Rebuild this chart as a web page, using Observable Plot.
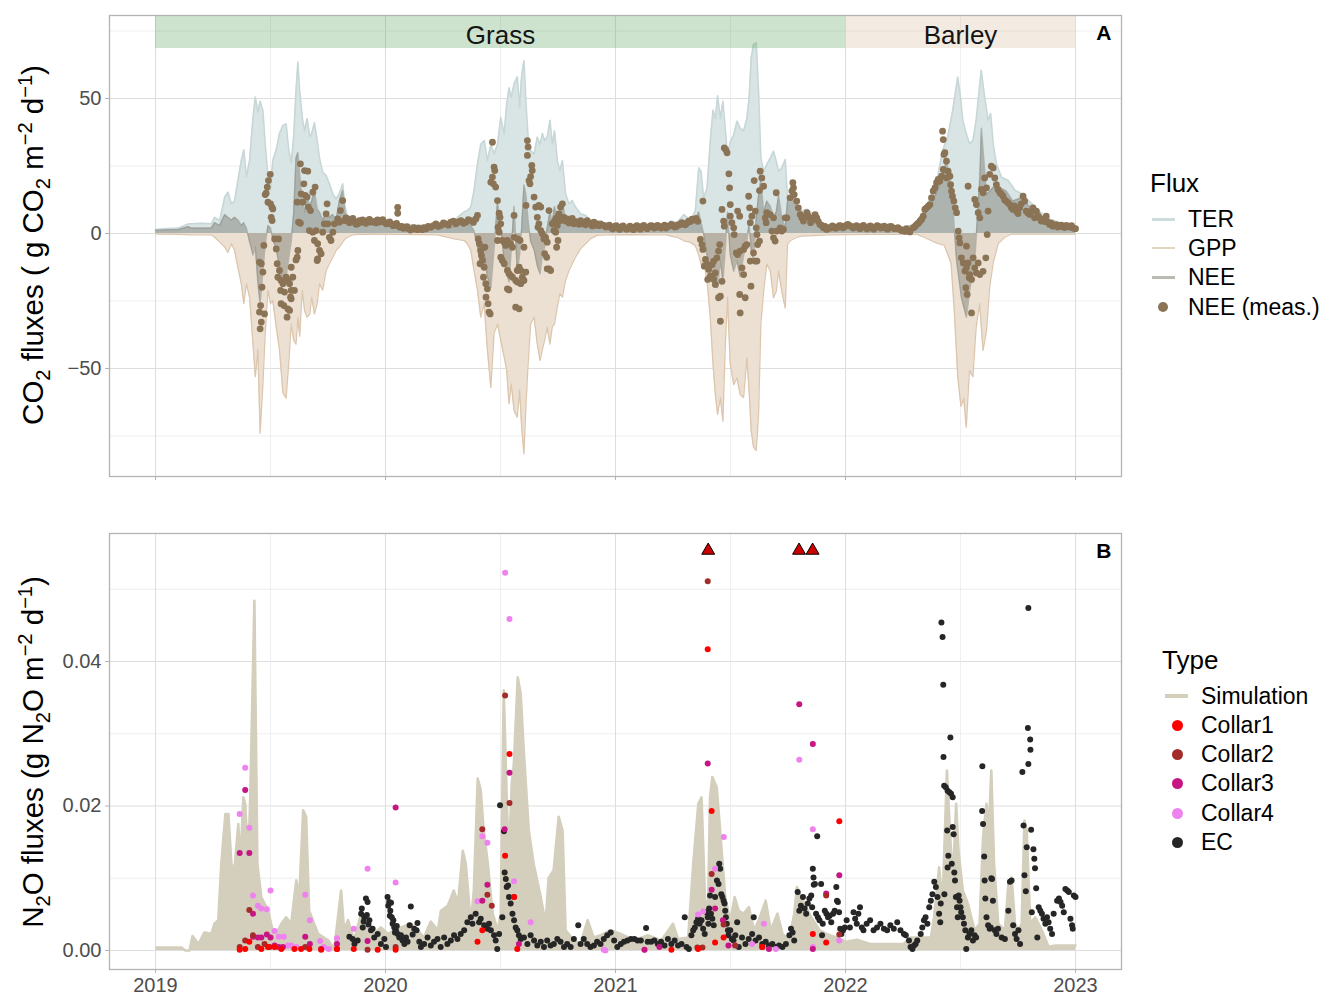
<!DOCTYPE html>
<html><head><meta charset="utf-8">
<script src="https://cdn.jsdelivr.net/npm/d3@7"></script>
<script src="https://cdn.jsdelivr.net/npm/@observablehq/plot@0.6"></script>
<style>
body{margin:0;background:#fff;font-family:"Liberation Sans",Arial,Helvetica,sans-serif;}
#wrap{position:relative;width:1324px;height:995px;overflow:hidden;background:#fff;}
#wrap svg{position:absolute;left:0;}
.ytitle{position:absolute;white-space:nowrap;font-size:29.5px;color:#000;transform:translate(-50%,-50%) rotate(-90deg);line-height:1.15;}
.ytitle sub,.ytitle sup{font-size:68%;line-height:0;}
</style></head>
<body><div id="wrap"></div>
<script>
// ---------------- DATA ----------------
const years = [2019, 2020, 2021, 2022, 2023];
const halfYears = [2019.5, 2020.5, 2021.5, 2022.5];
const co2Major = [-50, 0, 50];
const co2Minor = [-75, -25, 25, 75];
const n2oMajor = [0, 0.02, 0.04];
const n2oMinor = [0.01, 0.03, 0.05];
const crops = [{crop: "Grass", start: 2019, end: 2022}, {crop: "Barley", start: 2022, end: 2023}];
const fluxKeys = ["TER", "GPP", "NEE", "NEE (meas.)"];
const typeKeys = ["Simulation", "Collar1", "Collar2", "Collar3", "Collar4", "EC"];

// Panel A: simulated TER, GPP, NEE [decimal year, g CO2 m-2 d-1]
const terSeries = [
[2019.000,1.5],[2019.050,1.8],[2019.100,2.0],[2019.143,3.5],[2019.156,3.6],[2019.199,3.8],[2019.243,3.6],[2019.257,6],[2019.279,4.8],[2019.301,13.5],[2019.315,15.3],[2019.330,11],[2019.344,12],[2019.358,19.6],[2019.373,27],[2019.384,31],[2019.395,21],[2019.409,27],[2019.424,43],[2019.434,50.5],[2019.445,45],[2019.455,49],[2019.467,45.5],[2019.477,33],[2019.489,21],[2019.500,16],[2019.510,27],[2019.525,31],[2019.539,37],[2019.554,40],[2019.568,40.6],[2019.578,32],[2019.590,26],[2019.601,36],[2019.611,53],[2019.619,63.5],[2019.627,53],[2019.638,43],[2019.648,38],[2019.659,42.5],[2019.671,36],[2019.679,37],[2019.691,41],[2019.703,34.4],[2019.713,28],[2019.727,22.7],[2019.742,21.5],[2019.756,18.4],[2019.771,14.7],[2019.785,12.8],[2019.799,14.7],[2019.814,18.4],[2019.824,9.8],[2019.836,6],[2019.857,5.4],[2019.879,4.8],[2019.937,4.8],[2020.000,4.5],[2020.060,3.5],[2020.110,3.2],
[2020.154,3],[2020.226,3],[2020.299,4],[2020.313,6],[2020.342,8],[2020.356,8.5],[2020.371,9.8],[2020.385,16],[2020.400,25.8],[2020.414,33],[2020.429,34.4],[2020.443,27],[2020.458,33],[2020.472,29.5],[2020.487,33],[2020.501,43],[2020.516,37],[2020.527,48],[2020.537,54],[2020.547,50.5],[2020.559,55.4],[2020.573,58],[2020.583,46.8],[2020.592,58.5],[2020.602,64],[2020.611,48],[2020.620,35.7],[2020.631,30.7],[2020.646,29.5],[2020.660,35.7],[2020.672,33],[2020.682,37],[2020.692,34.4],[2020.703,35.7],[2020.715,41.9],[2020.725,33],[2020.735,38],[2020.747,27],[2020.758,23.3],[2020.769,27],[2020.783,14.7],[2020.798,11],[2020.812,12.2],[2020.826,9.8],[2020.848,7.3],[2020.870,6.7],[2020.891,4.8],[2020.920,4.5],[2020.960,3.5],[2021.000,3],[2021.080,3],[2021.120,3.2],
[2021.152,2.7],[2021.224,2.7],[2021.239,4.6],[2021.268,4],[2021.297,7],[2021.326,5],[2021.347,8.3],[2021.362,24.3],[2021.372,23],[2021.383,13],[2021.398,16.9],[2021.412,34],[2021.424,45.7],[2021.434,42.6],[2021.444,51],[2021.456,42.6],[2021.467,49],[2021.477,39],[2021.487,29],[2021.499,34],[2021.514,36.5],[2021.528,41.6],[2021.542,39],[2021.557,38],[2021.571,42.6],[2021.581,50.2],[2021.590,65],[2021.600,70],[2021.612,70.6],[2021.622,52.7],[2021.632,28],[2021.644,23],[2021.658,25.5],[2021.673,28],[2021.687,30.5],[2021.699,26.8],[2021.709,23],[2021.723,24.3],[2021.738,27.4],[2021.748,13],[2021.759,12],[2021.774,15.7],[2021.788,10.7],[2021.810,8.3],[2021.832,9],[2021.861,7],[2021.889,4.6],[2021.918,2.7],[2022.000,3],[2022.100,2.8],[2022.200,2.5],
[2022.254,2.3],[2022.297,2.5],[2022.312,4.7],[2022.341,8.5],[2022.371,13.5],[2022.400,20.8],[2022.422,30.7],[2022.444,35.7],[2022.466,45.5],[2022.488,57.9],[2022.500,50.5],[2022.510,41.9],[2022.525,37],[2022.539,33.3],[2022.554,34.4],[2022.568,41.9],[2022.590,60.4],[2022.605,50.5],[2022.620,41.9],[2022.631,44.4],[2022.642,33.3],[2022.656,25.8],[2022.679,20.8],[2022.708,19.6],[2022.737,16],[2022.766,14.7],[2022.796,12.2],[2022.825,9.8],[2022.854,7.3],[2022.883,5.5],[2022.928,4.2],[2022.986,3],[2023.000,2.5]
];
const gppSeries = [
[2019.000,-0.2],[2019.100,-0.3],[2019.156,-0.5],[2019.243,-0.5],[2019.257,-1.4],[2019.279,-3.2],[2019.301,-5],[2019.315,-7],[2019.330,-3.8],[2019.344,-6.3],[2019.358,-12.5],[2019.373,-18.6],[2019.384,-26],[2019.395,-18.6],[2019.409,-23.6],[2019.424,-41],[2019.434,-53],[2019.445,-43],[2019.455,-74],[2019.467,-55.7],[2019.477,-37],[2019.489,-21],[2019.500,-26],[2019.510,-24.8],[2019.525,-34.7],[2019.539,-43],[2019.554,-59],[2019.568,-61],[2019.578,-49.5],[2019.590,-33.5],[2019.601,-39.6],[2019.611,-41],[2019.619,-31],[2019.627,-38],[2019.638,-21],[2019.648,-28.5],[2019.659,-31],[2019.671,-29.8],[2019.679,-23.6],[2019.691,-29.8],[2019.703,-26],[2019.713,-18.6],[2019.727,-21],[2019.742,-13.7],[2019.756,-11.2],[2019.771,-8.8],[2019.785,-6.3],[2019.799,-5],[2019.814,-3.2],[2019.824,-2],[2019.836,-1.4],[2019.857,-0.5],[2019.879,-0.3],[2019.937,-0.2],[2020.060,-0.3],[2020.154,-0.4],
[2020.226,-0.5],[2020.299,-2],[2020.313,-2.2],[2020.342,-2.6],[2020.356,-3.8],[2020.371,-6.3],[2020.385,-13.7],[2020.400,-21],[2020.414,-31],[2020.429,-26],[2020.443,-43],[2020.458,-57],[2020.472,-37],[2020.487,-33.5],[2020.501,-39.6],[2020.516,-45.8],[2020.527,-50.7],[2020.537,-63],[2020.547,-55.7],[2020.559,-65.6],[2020.573,-68],[2020.583,-58],[2020.592,-71.7],[2020.602,-81.6],[2020.611,-63],[2020.620,-48.3],[2020.631,-33.5],[2020.646,-31],[2020.660,-41],[2020.672,-47],[2020.682,-43],[2020.692,-39.6],[2020.703,-34.7],[2020.715,-41],[2020.725,-34.7],[2020.735,-33.5],[2020.747,-27.3],[2020.758,-22.3],[2020.769,-23.6],[2020.783,-17.4],[2020.798,-13.7],[2020.812,-11.2],[2020.826,-8.8],[2020.848,-5.7],[2020.870,-3.8],[2020.891,-2],[2020.920,-0.7],[2020.960,-0.5],[2021.080,-0.4],
[2021.152,-0.5],[2021.224,-0.5],[2021.239,-1],[2021.268,-1.4],[2021.297,-2.7],[2021.326,-3.3],[2021.347,-4.5],[2021.362,-8],[2021.372,-11.3],[2021.383,-10],[2021.398,-17.4],[2021.412,-31],[2021.424,-48.5],[2021.434,-59.6],[2021.444,-67],[2021.456,-60.8],[2021.467,-69.5],[2021.477,-42.4],[2021.487,-23.6],[2021.499,-48.5],[2021.514,-56],[2021.528,-53.5],[2021.542,-59.6],[2021.557,-60.8],[2021.571,-46],[2021.581,-58.4],[2021.590,-73],[2021.600,-79],[2021.612,-80.4],[2021.622,-67],[2021.632,-33.5],[2021.644,-21.4],[2021.658,-11.3],[2021.673,-13.9],[2021.687,-23.8],[2021.699,-21.4],[2021.709,-13.9],[2021.723,-21.4],[2021.738,-27.6],[2021.748,-4],[2021.759,-2.7],[2021.788,-1.4],[2021.810,-1],[2021.861,-0.8],[2021.918,-0.5],[2022.100,-0.3],[2022.200,-0.3],
[2022.254,-0.3],[2022.312,-0.3],[2022.341,-1.4],[2022.371,-2.6],[2022.400,-3.7],[2022.429,-4.3],[2022.459,-11],[2022.473,-28.5],[2022.488,-53],[2022.502,-64],[2022.514,-61],[2022.525,-71.7],[2022.539,-50.7],[2022.554,-53],[2022.568,-34.7],[2022.583,-26],[2022.598,-43.3],[2022.613,-36],[2022.627,-19.9],[2022.642,-11],[2022.664,-3.7],[2022.693,-1.4],[2022.722,-0.2],[2023.000,-0.2]
];
const neeSeries = [
[2019.000,1.2],[2019.050,1.4],[2019.100,1.5],[2019.143,2.5],[2019.156,2],[2019.243,2],[2019.257,4],[2019.279,3],[2019.301,7],[2019.315,6],[2019.330,5],[2019.344,6],[2019.358,5],[2019.373,3],[2019.384,4],[2019.395,2],[2019.409,-3],[2019.424,-8],[2019.434,-5],[2019.445,-18],[2019.455,-26],[2019.467,-14],[2019.477,-4],[2019.489,3],[2019.500,2],[2019.510,-2],[2019.525,-6],[2019.539,-12],[2019.554,-18],[2019.568,-16],[2019.578,-10],[2019.590,-3],[2019.601,8],[2019.611,28],[2019.619,30],[2019.627,22],[2019.638,12],[2019.648,8],[2019.659,14],[2019.671,10],[2019.679,12],[2019.691,16],[2019.703,9],[2019.713,8],[2019.727,5],[2019.742,8],[2019.756,6],[2019.771,7],[2019.785,5],[2019.799,12],[2019.814,16],[2019.824,8],[2019.836,4],[2019.857,4],[2019.879,3.5],[2019.937,4],[2020.000,4],[2020.060,3],[2020.110,2.5],
[2020.154,2.5],[2020.226,2.5],[2020.299,2.5],[2020.313,3],[2020.342,4],[2020.356,3.5],[2020.371,3],[2020.385,1],[2020.400,-5],[2020.414,-12],[2020.429,-8],[2020.443,-16],[2020.458,-20],[2020.472,-6],[2020.487,12],[2020.501,2],[2020.516,-10],[2020.527,-14],[2020.537,-18],[2020.547,-6],[2020.559,10],[2020.573,-14],[2020.583,-8],[2020.592,2],[2020.602,18],[2020.611,14],[2020.620,5],[2020.631,-3],[2020.646,-6],[2020.660,-12],[2020.672,-15],[2020.682,-8],[2020.692,-5],[2020.703,2],[2020.715,8],[2020.725,4],[2020.735,10],[2020.747,6],[2020.758,8],[2020.769,12],[2020.783,5],[2020.798,4],[2020.812,6],[2020.826,4],[2020.848,4],[2020.870,3.5],[2020.891,3],[2020.920,3],[2020.960,2.5],[2021.000,2.2],[2021.080,2.2],[2021.120,2.5],
[2021.152,2.5],[2021.224,2.5],[2021.239,2.8],[2021.268,2.8],[2021.297,3],[2021.326,3.5],[2021.347,5],[2021.362,8],[2021.372,4],[2021.383,0],[2021.398,-8],[2021.412,-14],[2021.424,-18],[2021.434,-16],[2021.444,-20],[2021.456,-10],[2021.467,-18],[2021.477,-6],[2021.487,8],[2021.499,-8],[2021.514,-14],[2021.528,-10],[2021.542,-16],[2021.557,-8],[2021.571,-3],[2021.581,4],[2021.590,-6],[2021.600,-10],[2021.612,6],[2021.622,14],[2021.632,20],[2021.644,8],[2021.658,12],[2021.673,10],[2021.687,6],[2021.699,8],[2021.709,14],[2021.723,6],[2021.738,2],[2021.748,12],[2021.759,14],[2021.774,16],[2021.788,10],[2021.810,8],[2021.832,6],[2021.861,5],[2021.889,3.5],[2021.918,2.5],[2022.000,2.5],[2022.100,2.3],[2022.200,2],
[2022.237,1.5],[2022.295,3.3],[2022.367,9.5],[2022.410,18],[2022.439,26.8],[2022.454,20.6],[2022.468,8],[2022.483,-10],[2022.504,-23.8],[2022.526,-31],[2022.540,-21],[2022.562,-10],[2022.584,20.6],[2022.591,39],[2022.613,14.4],[2022.642,17],[2022.671,17],[2022.699,15.7],[2022.728,12],[2022.772,13.5],[2022.815,8],[2022.859,5.8],[2022.902,3.3],[2022.960,2.5],[2023.000,2]
];
// Panel A: measured NEE
const neeMeasured = [
[2019.499,21.9],[2019.491,19.6],[2019.486,17.2],[2019.481,14.9],[2019.477,14.4],[2019.489,11.6],[2019.500,11.0],[2019.506,9.8],[2019.510,9.1],[2019.503,6.0],[2019.507,4.8],
[2019.471,-4.4],[2019.452,-10.6],[2019.460,-11.2],[2019.467,-14.3],[2019.463,-19.9],[2019.457,-26.7],[2019.452,-29.1],[2019.474,-29.8],[2019.460,-32.8],[2019.455,-35.3],
[2019.518,-2.0],[2019.535,-2.0],[2019.525,-5.7],[2019.529,-11.2],[2019.539,-13.7],[2019.532,-16.2],[2019.546,-17.4],[2019.554,-18.6],[2019.544,-21.1],[2019.561,-21.7],[2019.568,-16.2],[2019.575,-17.4],[2019.583,-18.6],[2019.590,-12.5],[2019.597,-16.2],[2019.604,-21.1],[2019.590,-21.1],[2019.587,-23.6],[2019.546,-26.0],[2019.558,-26.7],[2019.575,-27.9],[2019.583,-28.5],[2019.572,-31.0],[2019.590,-24.2],[2019.619,-6.3],[2019.616,-8.8],[2019.611,-9.8],
[2019.630,25.8],[2019.648,23.3],[2019.662,23.1],[2019.645,18.4],[2019.633,14.7],[2019.651,14.1],[2019.659,13.5],[2019.640,11.6],[2019.665,9.8],[2019.674,8.5],[2019.616,11.6],[2019.622,4.2],[2019.630,3.8],[2019.694,17.2],[2019.684,15.3],
[2019.669,1.1],[2019.684,0.5],[2019.698,1.1],[2019.705,-3.8],[2019.713,-6.3],[2019.720,-7.5],[2019.705,-9.4],[2019.703,-10.0],[2019.691,-2.6],[2019.727,0.5],[2019.734,3.6],[2019.749,3.6],[2019.742,7.3],[2019.746,11.0],[2019.756,-1.4],[2019.763,-2.6],[2019.771,0.5],[2019.778,3.6],[2019.792,5.4],[2019.804,8.5],[2019.814,12.2],[2019.799,4.2],[2019.821,4.8],[2019.828,5.8],[2019.836,5.4],[2019.843,4.0],[2019.850,4.8],[2019.858,5.6],[2019.865,4.2],[2019.872,3.4],[2019.879,3.6],[2019.886,4.8],[2019.893,4.2],[2019.900,5.0],[2019.908,4.2],[2019.915,3.8],[2019.922,4.8],[2019.930,5.2],[2019.937,4.2],
[2019.950,4.5],[2019.958,3.9],[2019.965,5.0],[2019.972,4.2],[2019.980,4.6],[2019.988,5.1],[2019.995,4.2],[2020.003,3.6],[2020.010,3.8],[2020.018,4.3],[2020.025,3.6],[2020.033,2.9],[2020.040,3.2],[2020.048,3.7],[2020.055,2.8],[2020.053,9.7],[2020.053,7.5],[2020.063,2.3],[2020.070,2.6],[2020.078,1.9],[2020.085,2.2],[2020.093,2.5],[2020.100,1.8],[2020.108,1.3],[2020.115,1.6],[2020.123,2.2],[2020.130,1.8],[2020.138,1.4],[2020.145,2.0],[2020.160,1.4],[2020.168,2.2],[2020.176,1.7],[2020.186,2.6],[2020.197,2.3],[2020.208,2.9],[2020.219,3.6],[2020.230,2.6],[2020.241,3.0],[2020.252,3.9],[2020.262,3.6],[2020.273,3.1],[2020.284,4.2],[2020.295,4.6],[2020.306,3.6],[2020.317,4.3],[2020.328,4.8],[2020.339,3.8],[2020.349,4.2],[2020.360,5.1],[2020.371,4.8],[2020.382,4.1],[2020.393,5.4],[2020.400,6.7],
[2020.403,-2.0],[2020.408,-3.8],[2020.414,-6.3],[2020.417,-8.1],[2020.422,-10.0],[2020.411,-11.2],[2020.429,-12.5],[2020.426,-16.2],[2020.436,-18.6],[2020.443,-20.5],[2020.437,-23.6],[2020.446,-26.0],[2020.450,-29.1],[2020.455,-29.8],[2020.432,-5.1],
[2020.465,33.8],[2020.472,24.6],[2020.475,23.3],[2020.465,20.9],[2020.458,19.0],[2020.469,18.4],[2020.479,17.2],[2020.487,12.2],[2020.494,7.5],[2020.498,6.0],[2020.501,3.6],[2020.489,2.3],[2020.494,0.5],
[2020.487,-2.6],[2020.508,-2.6],[2020.516,-3.2],[2020.523,-4.4],[2020.530,-2.6],[2020.544,-3.8],[2020.552,-5.1],[2020.559,-1.4],[2020.576,-2.0],[2020.585,-2.6],[2020.602,-5.1],[2020.501,-8.8],[2020.508,-10.0],[2020.516,-11.2],[2020.530,-13.7],[2020.537,-14.9],[2020.544,-15.6],[2020.552,-16.2],[2020.566,-17.4],[2020.573,-13.7],[2020.581,-12.5],[2020.588,-13.7],[2020.595,-16.2],[2020.602,-17.4],[2020.610,-14.3],[2020.588,-18.6],[2020.573,-18.0],[2020.530,-20.5],[2020.537,-20.9],[2020.566,-27.3],[2020.581,-27.9],[2020.559,6.7],
[2020.617,34.4],[2020.620,32.0],[2020.617,28.9],[2020.636,25.2],[2020.638,23.3],[2020.631,21.1],[2020.624,19.6],[2020.628,18.4],[2020.646,13.5],[2020.653,9.8],[2020.611,10.4],[2020.667,10.4],[2020.675,9.8],[2020.660,6.0],[2020.667,3.6],[2020.663,2.3],[2020.675,1.1],[2020.682,-0.1],
[2020.689,-2.0],[2020.696,-1.4],[2020.703,-3.2],[2020.692,-7.5],[2020.701,-8.8],[2020.711,-13.1],[2020.718,-13.7],[2020.703,-13.1],[2020.711,8.5],[2020.725,3.6],[2020.732,4.2],[2020.740,5.4],[2020.747,6.0],[2020.754,7.3],[2020.761,9.8],[2020.769,11.0],[2020.761,4.8],[2020.747,3.0],[2020.740,0.5],[2020.750,-2.6],[2020.744,-5.1],[2020.732,1.1],[2020.776,6.0],[2020.783,4.6],[2020.790,5.4],[2020.798,3.9],[2020.805,4.8],[2020.812,5.6],[2020.819,3.6],[2020.827,4.4],[2020.834,4.2],[2020.841,3.4],[2020.848,4.8],[2020.856,3.6],[2020.863,4.2],[2020.870,3.2],[2020.877,4.8],[2020.884,3.9],[2020.891,3.6],[2020.899,2.8],[2020.906,4.2],[2020.913,3.1],[2020.920,3.6],[2020.928,2.9],[2020.935,3.6],
[2020.950,3.0],[2020.958,2.4],[2020.965,2.6],[2020.973,3.1],[2020.980,2.2],[2020.988,1.7],[2020.995,2.6],[2021.003,2.9],[2021.010,2.0],[2021.018,1.5],[2021.025,2.4],[2021.033,2.8],[2021.040,2.0],[2021.048,1.6],[2021.055,2.2],[2021.063,2.7],[2021.070,1.8],[2021.078,1.4],[2021.085,2.4],[2021.093,2.9],[2021.100,2.0],[2021.108,1.6],[2021.115,2.6],[2021.123,3.0],[2021.130,2.2],[2021.138,1.8],[2021.145,2.4],[2021.153,2.9],[2021.160,2.8],[2021.168,2.0],[2021.175,2.2],[2021.183,3.0],[2021.190,2.6],[2021.198,2.0],[2021.205,2.4],[2021.213,3.1],[2021.220,2.0],[2021.228,2.6],[2021.235,2.8],[2021.243,3.4],[2021.250,3.0],[2021.258,2.4],[2021.265,2.6],[2021.273,3.3],[2021.280,3.2],[2021.288,4.0],[2021.295,3.6],[2021.303,3.2],[2021.310,3.8],[2021.318,4.6],[2021.325,4.4],[2021.333,5.3],[2021.340,5.0],[2021.350,5.6],[2021.358,4.5],
[2021.380,12.0],[2021.369,-2.2],[2021.376,-4.1],[2021.380,-5.9],[2021.391,-9.6],[2021.398,-11.5],[2021.386,-12.1],[2021.405,-13.3],[2021.412,-15.8],[2021.401,-17.0],[2021.420,-16.4],[2021.427,-17.0],[2021.434,-14.6],[2021.420,-11.5],[2021.427,-10.2],[2021.441,-9.0],[2021.448,-6.5],[2021.453,-4.1],[2021.434,-18.9],[2021.456,-23.2],[2021.448,-23.8],[2021.456,-32.5],[2021.463,-17.7],
[2021.473,31.7],[2021.479,31.1],[2021.485,29.9],[2021.493,22.1],[2021.496,16.9],[2021.499,10.7],[2021.463,8.9],[2021.470,4.6],[2021.473,2.7],[2021.499,6.4],[2021.506,4.0],[2021.514,2.1],[2021.516,-0.4],[2021.531,8.3],[2021.540,6.4],[2021.525,-7.2],[2021.531,-7.8],[2021.542,-6.5],[2021.557,-5.9],[2021.564,-4.7],[2021.571,-4.1],[2021.550,-12.7],[2021.557,-15.2],[2021.540,-22.6],[2021.564,-23.8],[2021.542,-29.4],[2021.589,-19.5],
[2021.579,13.8],[2021.583,9.5],[2021.586,4.0],[2021.593,6.4],[2021.603,19.6],[2021.608,8.3],[2021.612,2.1],[2021.615,-0.4],[2021.618,-4.1],[2021.626,-2.8],[2021.586,-10.2],[2021.600,-7.2],[2021.608,-10.2],[2021.615,-10.2],[2021.629,23.1],[2021.636,20.6],[2021.644,17.5],[2021.626,15.9],[2021.651,5.8],[2021.655,4.0],[2021.658,7.7],[2021.673,7.0],[2021.687,5.8],[2021.699,15.1],[2021.680,0.9],[2021.687,-1.6],[2021.694,-2.8],[2021.701,0.9],[2021.716,2.1],[2021.723,0.9],[2021.730,1.5],[2021.738,5.8],[2021.745,5.8],[2021.759,13.2],[2021.767,15.7],[2021.774,16.9],[2021.771,18.8],[2021.777,14.4],[2021.788,12.0],[2021.795,9.5],[2021.803,7.0],[2021.810,5.8],[2021.817,4.6],[2021.825,6.2],[2021.832,7.7],[2021.838,6.4],[2021.843,5.8],[2021.848,4.0],[2021.853,4.6],[2021.860,5.6],[2021.868,7.0],[2021.875,5.8],[2021.882,4.4],[2021.889,3.3],[2021.897,3.0],[2021.904,2.1],[2021.911,2.6],[2021.918,1.5],[2021.926,2.2],
[2021.935,2.0],[2021.943,2.8],[2021.950,2.4],[2021.958,1.9],[2021.965,2.2],[2021.973,2.9],[2021.980,2.8],[2021.988,2.1],[2021.995,2.4],[2022.003,3.0],[2022.010,3.4],[2022.018,2.9],[2022.025,2.6],[2022.033,2.0],[2022.040,2.4],[2022.048,2.9],[2022.055,2.2],[2022.063,1.8],[2022.070,2.6],[2022.078,3.0],[2022.085,2.2],[2022.093,1.7],[2022.100,2.4],[2022.108,2.8],[2022.115,2.0],[2022.123,1.6],[2022.130,2.4],[2022.138,2.9],[2022.145,2.6],[2022.153,2.0],[2022.160,2.2],[2022.168,2.7],[2022.175,2.0],[2022.183,1.6],[2022.190,2.4],[2022.198,2.6],[2022.205,2.2],[2022.213,1.8],[2022.220,1.8],[2022.228,2.2],[2022.235,1.6],[2022.243,1.1],[2022.250,1.2],[2022.258,0.8],[2022.265,1.8],[2022.272,0.9],[2022.280,0.6],
[2022.295,2.1],[2022.302,2.6],[2022.309,3.3],[2022.317,3.8],[2022.324,4.6],[2022.331,5.2],[2022.338,6.4],[2022.345,8.9],[2022.352,9.5],[2022.360,10.1],[2022.367,10.7],[2022.374,13.2],[2022.381,15.7],[2022.389,16.9],[2022.396,18.8],[2022.403,20.0],[2022.410,19.4],[2022.418,21.2],[2022.425,23.7],[2022.428,29.3],[2022.432,29.9],[2022.439,26.8],[2022.446,23.1],[2022.454,21.2],[2022.439,20.6],[2022.457,18.1],[2022.461,15.7],[2022.465,13.8],[2022.471,12.0],[2022.477,9.5],[2022.483,7.7],[2022.422,37.9],[2022.425,34.8],
[2022.490,0.9],[2022.494,-1.6],[2022.497,-3.5],[2022.504,-9.0],[2022.512,-10.9],[2022.519,-13.9],[2022.526,-12.7],[2022.533,-10.9],[2022.540,-15.2],[2022.548,-17.0],[2022.523,-20.1],[2022.529,-22.6],[2022.538,-16.4],[2022.548,-29.4],[2022.555,-9.0],[2022.562,-12.7],[2022.569,-14.6],[2022.577,-10.9],[2022.584,-15.2],[2022.598,-14.0],[2022.610,-9.0],[2022.526,-4.7],[2022.533,17.5],
[2022.562,12.6],[2022.569,10.7],[2022.577,7.7],[2022.584,5.8],[2022.591,16.3],[2022.598,15.1],[2022.605,20.6],[2022.613,16.9],[2022.620,8.3],[2022.616,-0.4],[2022.627,21.9],[2022.634,24.9],[2022.642,24.3],[2022.649,20.6],[2022.656,18.1],[2022.663,16.3],[2022.671,15.1],[2022.678,14.6],[2022.685,13.8],[2022.692,12.4],[2022.699,12.0],[2022.706,11.4],[2022.714,10.7],[2022.721,9.6],[2022.728,8.9],[2022.735,10.2],[2022.743,8.3],[2022.750,7.4],[2022.757,9.5],[2022.764,11.0],[2022.772,13.8],[2022.779,12.0],[2022.786,8.3],[2022.793,7.6],[2022.801,7.0],[2022.808,8.2],[2022.815,9.5],[2022.822,5.8],[2022.830,8.3],[2022.837,6.6],[2022.844,5.8],[2022.851,4.6],[2022.859,5.2],[2022.866,4.4],[2022.873,6.4],[2022.880,4.2],[2022.887,3.3],[2022.895,3.8],[2022.902,2.7],[2022.909,3.0],[2022.916,3.3],[2022.923,2.4],[2022.931,2.7],[2022.938,3.1],[2022.945,2.5],[2022.953,2.2],[2022.960,3.0],[2022.968,2.6],[2022.975,2.4],[2022.983,2.9],[2022.990,2.0],[2023.000,1.8]
];

// Panel B: simulated N2O [decimal year, g N2O m-2 d-1]
const n2oSimulation = [
[2019.004,0.0004],[2019.113,0.0004],[2019.130,0.0],[2019.148,0.0],[2019.161,0.0020],[2019.187,0.0009],[2019.213,0.0025],[2019.243,0.0023],[2019.256,0.0037],[2019.273,0.0042],[2019.286,0.0120],[2019.304,0.0189],[2019.317,0.0189],[2019.330,0.0120],[2019.343,0.0111],[2019.360,0.0175],[2019.369,0.0120],[2019.382,0.0212],[2019.390,0.0203],[2019.403,0.0120],[2019.412,0.0212],[2019.430,0.0484],[2019.434,0.0369],[2019.443,0.0120],[2019.460,0.0074],[2019.490,0.0055],[2019.516,0.0018],[2019.547,0.0037],[2019.568,0.0046],[2019.590,0.0037],[2019.612,0.0097],[2019.625,0.0074],[2019.642,0.0194],[2019.655,0.0185],[2019.668,0.0055],[2019.707,0.0023],[2019.751,0.0014],[2019.777,0.0002],[2019.807,0.0083],[2019.820,0.0028],[2019.837,0.0042],[2019.863,0.0014],[2019.894,0.0051],[2019.924,0.0028],[2019.950,0.0023],[2019.980,0.0032],[2020.011,0.0023],[2020.037,0.0028],[2020.067,0.0032],[2020.111,0.0037],[2020.141,0.0028],[2020.167,0.0018],[2020.197,0.0040],[2020.228,0.0028],[2020.241,0.0055],[2020.271,0.0062],[2020.297,0.0083],[2020.315,0.0065],[2020.336,0.0138],[2020.349,0.0120],[2020.371,0.0037],[2020.384,0.0083],[2020.401,0.0238],[2020.414,0.0222],[2020.427,0.0166],[2020.445,0.0120],[2020.466,0.0051],[2020.488,0.0028],[2020.501,0.0051],[2020.514,0.0360],[2020.527,0.0212],[2020.536,0.0120],[2020.549,0.0231],[2020.558,0.0258],[2020.575,0.0378],[2020.588,0.0355],[2020.601,0.0277],[2020.623,0.0166],[2020.644,0.0120],[2020.675,0.0074],[2020.696,0.0037],[2020.709,0.0100],[2020.731,0.0111],[2020.753,0.0185],[2020.770,0.0166],[2020.783,0.0028],[2020.818,0.0014],[2020.848,0.0009],[2020.879,0.0042],[2020.905,0.0018],[2020.935,0.0021],[2020.978,0.0028],
[2021.023,0.0023],[2021.082,0.0014],[2021.140,0.0021],[2021.199,0.0014],[2021.250,0.0037],[2021.272,0.0016],[2021.316,0.0018],[2021.338,0.0120],[2021.360,0.0203],[2021.374,0.0212],[2021.389,0.0074],[2021.401,0.0037],[2021.411,0.0212],[2021.421,0.0240],[2021.440,0.0226],[2021.455,0.0166],[2021.477,0.0074],[2021.499,0.0040],[2021.518,0.0074],[2021.536,0.0055],[2021.557,0.0051],[2021.580,0.0060],[2021.602,0.0028],[2021.623,0.0042],[2021.653,0.0069],[2021.675,0.0028],[2021.704,0.0051],[2021.726,0.0023],[2021.755,0.0014],[2021.777,0.0051],[2021.789,0.0088],[2021.807,0.0074],[2021.829,0.0060],[2021.851,0.0046],[2021.887,0.0028],[2021.917,0.0023],[2021.961,0.0018],[2022.004,0.0012],[2022.049,0.0015],[2022.107,0.0009],[2022.253,0.0009],[2022.283,0.0018],[2022.371,0.0018],[2022.385,0.0046],[2022.407,0.0115],[2022.422,0.0065],[2022.441,0.0249],[2022.451,0.0185],[2022.466,0.0092],[2022.481,0.0203],[2022.491,0.0139],[2022.510,0.0083],[2022.532,0.0065],[2022.561,0.0028],[2022.583,0.0037],[2022.598,0.0157],[2022.613,0.0203],[2022.623,0.0166],[2022.634,0.0249],[2022.646,0.0120],[2022.664,0.0037],[2022.693,0.0028],[2022.708,0.0092],[2022.722,0.0101],[2022.737,0.0037],[2022.751,0.0028],[2022.766,0.0037],[2022.778,0.0180],[2022.788,0.0166],[2022.803,0.0037],[2022.825,0.0046],[2022.854,0.0028],[2022.883,0.0005],[2022.913,0.0007],[2023.000,0.0007]
];
const collar1 = [
[2019.366,0.0001],[2019.390,0.0002],[2019.408,0.0012],[2019.460,0.0002],[2019.489,0.0005],[2019.518,0.0005],[2019.547,0.0002],[2019.604,0.0002],[2019.633,0.0002],[2019.669,0.0002],[2019.720,0.0001],[2019.789,0.0002],[2019.862,0.0002],[2019.966,0.0001],[2020.044,0.0001],[2020.400,0.0012],[2020.421,0.0028],[2020.520,0.0131],[2020.539,0.0272],[2020.559,0.0074],[2020.573,0.0002],
[2021.401,0.0417],[2021.418,0.0193],[2021.433,0.0011],[2021.470,0.0018],[2021.858,0.0023],[2021.916,0.0011],[2021.973,0.0179],[2021.638,0.0005],[2021.243,0.0001],[2021.359,0.0002]
];
const collar2 = [
[2019.408,0.0056],[2019.390,0.0014],[2019.366,0.0005],[2019.424,0.0021],[2019.445,0.0005],[2019.474,0.0009],[2019.496,0.0005],[2019.651,0.0005],[2019.789,0.0002],[2019.922,0.0001],[2020.044,0.0005],[2020.421,0.0168],[2020.443,0.0077],[2020.462,0.0062],[2020.520,0.0353],[2020.539,0.0204],[2020.559,0.0074],
[2021.401,0.0511],[2021.418,0.0106],[2021.356,0.0004],[2021.378,0.0004],[2021.470,0.0036],[2021.916,0.0076],[2021.973,0.0022],[2021.520,0.0007],[2021.638,0.0005]
];
const collar3 = [
[2019.390,0.0222],[2019.366,0.0135],[2019.408,0.0135],[2019.424,0.0051],[2019.424,0.0019],[2019.445,0.0018],[2019.460,0.0018],[2019.484,0.0022],[2019.500,0.0018],[2019.518,0.0007],[2019.536,0.0005],[2019.554,0.0005],[2019.651,0.0019],[2019.671,0.0009],[2019.720,0.0002],[2019.789,0.0009],[2019.922,0.0013],[2020.044,0.0198],[2020.421,0.0069],[2020.443,0.0091],[2020.518,0.0168],[2020.539,0.0246],[2020.580,0.0009],
[2021.401,0.0259],[2021.418,0.0084],[2021.433,0.0058],[2021.467,0.0042],[2021.799,0.0341],[2021.858,0.0286],[2021.916,0.0079],[2021.973,0.0104],[2021.858,0.0002],[2021.126,0.0001],[2021.191,0.0005],[2021.491,0.0007],[2021.667,0.0002]
];
const collar4 = [
[2019.390,0.0253],[2019.366,0.0189],[2019.408,0.0170],[2019.424,0.0076],[2019.445,0.0062],[2019.460,0.0058],[2019.484,0.0057],[2019.500,0.0083],[2019.518,0.0027],[2019.536,0.0019],[2019.558,0.0019],[2019.576,0.0007],[2019.590,0.0007],[2019.612,0.0005],[2019.651,0.0077],[2019.671,0.0042],[2019.716,0.0013],[2019.732,0.0005],[2019.753,0.0002],[2019.789,0.0017],[2019.862,0.0030],[2019.922,0.0113],[2020.044,0.0094],[2020.400,0.0068],[2020.421,0.0158],[2020.443,0.0149],[2020.520,0.0523],[2020.539,0.0459],[2020.559,0.0096],[2020.631,0.0039],[2020.956,0.0000],
[2021.799,0.0264],[2021.858,0.0168],[2021.471,0.0157],[2021.433,0.0113],[2021.381,0.0054],[2021.359,0.0050],[2021.645,0.0037],[2021.973,0.0014],[2021.858,0.0005],[2020.949,0.0001],[2021.126,0.0001],[2021.520,0.0007],[2021.594,0.0009],[2021.697,0.0002]
];
const ecFlux = [
[2019.843,0.0019],[2019.857,0.0016],[2019.865,0.0009],[2019.879,0.0014],[2019.894,0.0051],[2019.901,0.0032],[2019.908,0.0046],[2019.915,0.0072],[2019.922,0.0067],[2019.930,0.0042],[2019.937,0.0028],[2019.944,0.0030],[2019.951,0.0018],[2019.966,0.0023],[2019.980,0.0009],[2019.995,0.0016],[2020.002,0.0005],[2020.009,0.0074],[2020.016,0.0067],[2020.021,0.0055],[2020.027,0.0046],[2020.031,0.0037],[2020.038,0.0032],[2020.045,0.0028],[2020.053,0.0023],[2020.060,0.0018],[2020.067,0.0021],[2020.074,0.0014],[2020.082,0.0009],[2020.089,0.0018],[2020.096,0.0012],[2020.110,0.0061],[2020.125,0.0030],[2020.139,0.0038],[2020.147,0.0012],[2020.154,0.0005],[2020.168,0.0009],[2020.183,0.0018],[2020.197,0.0007],[2020.211,0.0012],[2020.226,0.0016],[2020.240,0.0005],[2020.255,0.0018],[2020.269,0.0009],[2020.284,0.0014],[2020.298,0.0021],[2020.313,0.0016],[2020.327,0.0023],[2020.342,0.0028],[2020.356,0.0039],[2020.371,0.0046],[2020.378,0.0037],[2020.392,0.0051],[2020.407,0.0039],[2020.414,0.0044],[2020.429,0.0035],[2020.443,0.0030],[2020.450,0.0037],[2020.458,0.0028],[2020.472,0.0021],[2020.479,0.0014],[2020.486,0.0002],[2020.494,0.0023],[2020.498,0.0201],[2020.508,0.0046],[2020.515,0.0165],[2020.518,0.0108],[2020.523,0.0099],[2020.527,0.0088],[2020.533,0.0090],[2020.537,0.0074],[2020.544,0.0065],[2020.552,0.0051],[2020.559,0.0042],[2020.566,0.0032],[2020.573,0.0028],[2020.580,0.0021],[2020.588,0.0016],[2020.602,0.0018],[2020.617,0.0009],[2020.631,0.0021],[2020.646,0.0014],[2020.660,0.0007],[2020.675,0.0012],[2020.689,0.0005],[2020.703,0.0014],[2020.718,0.0007],[2020.732,0.0009],[2020.747,0.0016],[2020.761,0.0012],[2020.776,0.0005],[2020.790,0.0009],[2020.805,0.0005],[2020.819,0.0016],[2020.838,0.0035],[2020.848,0.0009],[2020.862,0.0016],[2020.877,0.0009],[2020.891,0.0005],[2020.906,0.0007],[2020.920,0.0012],
[2019.897,0.0058],[2019.905,0.0040],[2019.919,0.0049],[2019.926,0.0036],[2020.012,0.0062],[2020.019,0.0048],[2020.024,0.0066],[2020.034,0.0042],[2020.041,0.0025],[2020.049,0.0034],[2020.105,0.0035],[2020.118,0.0022],[2020.135,0.0028],
[2020.935,0.0009],[2020.949,0.0016],[2020.964,0.0021],[2020.979,0.0025],[2020.994,0.0014],[2021.008,0.0005],[2021.023,0.0009],
[2021.037,0.0012],[2021.052,0.0014],[2021.067,0.0016],[2021.082,0.0016],[2021.096,0.0014],[2021.110,0.0014],[2021.133,0.0031],[2021.140,0.0012],[2021.155,0.0012],[2021.169,0.0014],[2021.184,0.0009],[2021.198,0.0012],[2021.213,0.0007],[2021.228,0.0016],[2021.243,0.0009],[2021.257,0.0014],[2021.272,0.0007],[2021.287,0.0009],[2021.301,0.0046],[2021.309,0.0005],[2021.319,0.0002],
[2021.330,0.0021],[2021.338,0.0028],[2021.345,0.0032],[2021.352,0.0039],[2021.359,0.0044],[2021.366,0.0037],[2021.374,0.0042],[2021.381,0.0030],[2021.388,0.0023],
[2021.396,0.0053],[2021.401,0.0046],[2021.404,0.0037],[2021.407,0.0058],[2021.411,0.0076],[2021.415,0.0051],[2021.421,0.0044],[2021.427,0.0035],[2021.433,0.0074],
[2021.441,0.0097],[2021.448,0.0092],[2021.451,0.0120],[2021.455,0.0113],[2021.460,0.0078],[2021.465,0.0074],[2021.470,0.0069],[2021.474,0.0065],[2021.477,0.0055],[2021.480,0.0046],[2021.484,0.0037],[2021.489,0.0028],[2021.491,0.0021],[2021.499,0.0028],[2021.506,0.0016],[2021.513,0.0014],[2021.521,0.0021],[2021.529,0.0039],[2021.536,0.0005],[2021.550,0.0018],[2021.565,0.0009],[2021.579,0.0016],[2021.594,0.0023],[2021.601,0.0046],[2021.609,0.0014],[2021.624,0.0018],[2021.638,0.0009],[2021.653,0.0012],[2021.667,0.0007],[2021.682,0.0009],[2021.697,0.0005],[2021.711,0.0007],[2021.726,0.0005],[2021.741,0.0009],[2021.756,0.0021],[2021.763,0.0030],[2021.770,0.0025],[2021.777,0.0014],
[2021.792,0.0081],[2021.799,0.0055],[2021.806,0.0062],[2021.815,0.0074],[2021.822,0.0058],[2021.829,0.0051],[2021.836,0.0065],[2021.843,0.0072],[2021.851,0.0076],[2021.855,0.0060],[2021.858,0.0113],[2021.861,0.0101],[2021.862,0.0091],[2021.867,0.0092],[2021.872,0.0051],[2021.877,0.0158],[2021.880,0.0046],[2021.887,0.0042],[2021.894,0.0092],[2021.898,0.0021],[2021.901,0.0037],
[2021.910,0.0055],[2021.917,0.0051],[2021.924,0.0046],[2021.931,0.0048],[2021.938,0.0039],[2021.946,0.0051],[2021.953,0.0055],[2021.960,0.0088],[2021.963,0.0069],[2021.967,0.0067],[2021.972,0.0053],[2021.977,0.0030],[2021.982,0.0023],[2021.989,0.0028],
[2021.997,0.0032],[2022.005,0.0042],[2022.019,0.0032],[2022.035,0.0053],[2022.042,0.0044],[2022.049,0.0037],[2022.056,0.0051],[2022.063,0.0060],[2022.071,0.0032],[2022.078,0.0028],[2022.092,0.0037],[2022.107,0.0042],[2022.122,0.0028],[2022.137,0.0032],[2022.152,0.0037],[2022.167,0.0030],[2022.181,0.0028],[2022.195,0.0035],[2022.210,0.0030],[2022.225,0.0039],[2022.239,0.0028],[2022.254,0.0023],
[2022.262,0.0021],[2022.276,0.0014],[2022.283,0.0005],[2022.291,0.0002],[2022.298,0.0007],[2022.305,0.0009],[2022.312,0.0014],[2022.327,0.0023],[2022.334,0.0032],[2022.341,0.0042],[2022.348,0.0046],[2022.356,0.0037],
[2022.364,0.0060],[2022.371,0.0069],[2022.378,0.0078],[2022.386,0.0095],[2022.393,0.0088],[2022.400,0.0074],[2022.407,0.0051],[2022.412,0.0039],[2022.417,0.0454],[2022.422,0.0434],[2022.425,0.0368],[2022.426,0.0268],[2022.429,0.0228],[2022.436,0.0226],[2022.444,0.0221],[2022.452,0.0219],[2022.459,0.0217],[2022.466,0.0212],[2022.442,0.0166],[2022.447,0.0131],[2022.444,0.0115],[2022.456,0.0295],[2022.462,0.0120],[2022.466,0.0171],[2022.470,0.0161],[2022.473,0.0108],[2022.476,0.0097],[2022.480,0.0074],[2022.485,0.0060],[2022.488,0.0046],[2022.430,0.0078],[2022.414,0.0065],
[2022.492,0.0076],[2022.496,0.0069],[2022.500,0.0060],[2022.503,0.0053],[2022.510,0.0046],[2022.515,0.0037],[2022.521,0.0028],[2022.525,0.0002],[2022.532,0.0018],[2022.539,0.0023],[2022.547,0.0028],[2022.554,0.0014],[2022.561,0.0021],[2022.568,0.0018],
[2022.595,0.0255],[2022.594,0.0193],[2022.598,0.0175],[2022.603,0.0130],[2022.605,0.0097],[2022.608,0.0072],[2022.613,0.0046],[2022.620,0.0035],[2022.627,0.0030],[2022.634,0.0100],[2022.637,0.0099],[2022.641,0.0069],[2022.631,0.0032],[2022.649,0.0028],[2022.656,0.0023],[2022.663,0.0030],
[2022.679,0.0018],[2022.693,0.0016],[2022.708,0.0055],[2022.715,0.0095],[2022.722,0.0097],[2022.729,0.0035],[2022.737,0.0023],[2022.744,0.0016],[2022.752,0.0028],[2022.759,0.0009],
[2022.769,0.0247],[2022.774,0.0173],[2022.778,0.0104],[2022.784,0.0082],[2022.788,0.0143],[2022.793,0.0308],[2022.795,0.0258],[2022.795,0.0474],[2022.803,0.0292],[2022.804,0.0278],[2022.807,0.0167],[2022.810,0.0053],[2022.817,0.0140],[2022.821,0.0127],[2022.824,0.0114],[2022.829,0.0086],[2022.834,0.0018],[2022.840,0.0060],[2022.847,0.0055],[2022.854,0.0051],[2022.861,0.0044],[2022.869,0.0037],[2022.876,0.0046],[2022.883,0.0039],[2022.890,0.0030],[2022.898,0.0023],[2022.905,0.0051],
[2022.920,0.0069],[2022.928,0.0072],[2022.935,0.0067],[2022.942,0.0062],[2022.949,0.0053],[2022.956,0.0085],[2022.964,0.0083],[2022.971,0.0081],[2022.978,0.0044],[2022.985,0.0035],[2022.988,0.0030],[2022.993,0.0076],[2023.000,0.0074]
];
// dates of collar fluxes above the axis range (drawn as triangles at the top)
const offScaleYears = [2021.403, 2021.798, 2021.857];

// ---------------- CHART ----------------
const FONT = '"Liberation Sans", Arial, Helvetica, sans-serif';
const xDomain = [2018.8, 2023.2];
const co2Domain = [-90, 80.74];
const n2oDomain = [-0.00263, 0.05772];
const rows = pairs => d3.sort(pairs.map(([t, v]) => ({t, v})), d => d.t);
const minusFmt = d => (d < 0 ? "\u2212" + Math.abs(d) : String(d));
const gridMinor = {stroke: "#ebebeb", strokeOpacity: 1, strokeWidth: 0.8};
const gridMajor = {stroke: "#dedede", strokeOpacity: 1, strokeWidth: 1.1};
const axisStyle = {tickSize: 4, tickPadding: 4, stroke: "#b3b3b3", fill: "#4d4d4d", fontSize: 20, label: null};

const wrap = document.getElementById("wrap");

const plotA = Plot.plot({
  width: 1130, height: 490,
  marginLeft: 109, marginRight: 9, marginTop: 15, marginBottom: 14,
  x: {domain: xDomain}, y: {domain: co2Domain},
  style: {fontFamily: FONT, background: "transparent"},
  marks: [
    Plot.gridY(co2Minor, gridMinor),
    Plot.gridY(co2Major, gridMajor),
    Plot.gridX(halfYears, gridMinor),
    Plot.gridX(years, gridMajor),
    Plot.areaY(rows(terSeries), {x: "t", y: "v", fill: "#d9e4e4"}),
    Plot.areaY(rows(gppSeries), {x: "t", y: "v", fill: "#ece0d3"}),
    Plot.areaY(rows(neeSeries), {x: "t", y: "v", fill: "#6f7067", fillOpacity: 0.42}),
    Plot.lineY(rows(terSeries), {x: "t", y: "v", stroke: "#c7d7d7", strokeWidth: 1.6}),
    Plot.lineY(rows(gppSeries), {x: "t", y: "v", stroke: "#dcc6ad", strokeWidth: 1.3}),
    Plot.lineY(rows(neeSeries), {x: "t", y: "v", stroke: "#8d8f87", strokeOpacity: 0.55, strokeWidth: 1.4}),
    Plot.rect(crops.filter(d => d.crop === "Grass"), {x1: "start", x2: "end", y1: () => 68.5, y2: () => co2Domain[1], fill: "#5fa65f", fillOpacity: 0.31}),
    Plot.rect(crops.filter(d => d.crop === "Barley"), {x1: "start", x2: "end", y1: () => 68.5, y2: () => co2Domain[1], fill: "#d6bc9e", fillOpacity: 0.3}),
    Plot.text(crops, {x: d => (d.start + d.end) / 2, y: () => 73.3, text: "crop", fontSize: 26, fill: "#141414"}),
    Plot.dot(rows(neeMeasured), {x: "t", y: "v", r: 3.4, fill: "#8b7355"}),
    Plot.text(["A"], {frameAnchor: "top-right", dx: -10, dy: 10, textAnchor: "end", fontWeight: "bold", fontSize: 21, fill: "#000"}),
    Plot.frame({stroke: "#b3b3b3", strokeWidth: 1.3}),
    Plot.axisY(co2Major, {...axisStyle, tickFormat: minusFmt}),
    Plot.axisX(years, {...axisStyle, tickFormat: () => ""})
  ]
});
plotA.style.top = "0px";
wrap.appendChild(plotA);

const typeColors = {Collar1: "#ff0000", Collar2: "#a52a2a", Collar3: "#c71585", Collar4: "#ee82ee", EC: "#262626"};
const plotB = Plot.plot({
  width: 1130, height: 475,
  marginLeft: 109, marginRight: 9, marginTop: 13, marginBottom: 26,
  x: {domain: xDomain}, y: {domain: n2oDomain},
  style: {fontFamily: FONT, background: "transparent"},
  marks: [
    Plot.gridY(n2oMinor, gridMinor),
    Plot.gridY(n2oMajor, gridMajor),
    Plot.gridX(halfYears, gridMinor),
    Plot.gridX(years, gridMajor),
    Plot.areaY(rows(n2oSimulation), {x: "t", y: "v", fill: "#d3cfbc"}),
    Plot.lineY(rows(n2oSimulation), {x: "t", y: "v", stroke: "#d3cfbc", strokeWidth: 2.6, strokeLinejoin: "round"}),
    Plot.dot(rows(ecFlux), {x: "t", y: "v", r: 3, fill: typeColors.EC}),
    Plot.dot(rows(collar4), {x: "t", y: "v", r: 3, fill: typeColors.Collar4}),
    Plot.dot(rows(collar3), {x: "t", y: "v", r: 3, fill: typeColors.Collar3}),
    Plot.dot(rows(collar2), {x: "t", y: "v", r: 3, fill: typeColors.Collar2}),
    Plot.dot(rows(collar1), {x: "t", y: "v", r: 3, fill: typeColors.Collar1}),
    Plot.dot(offScaleYears, {x: d => d, frameAnchor: "top", dy: 17, symbol: "triangle", r: 4.8, fill: "#cc0000", stroke: "#000", strokeWidth: 1}),
    Plot.text(["B"], {frameAnchor: "top-right", dx: -10, dy: 10, textAnchor: "end", fontWeight: "bold", fontSize: 21, fill: "#000"}),
    Plot.frame({stroke: "#b3b3b3", strokeWidth: 1.3}),
    Plot.axisY(n2oMajor, {...axisStyle, tickFormat: d3.format(".2f")}),
    Plot.axisX(years, {...axisStyle, tickFormat: d => String(d)})
  ]
});
plotB.style.top = "520px";
wrap.appendChild(plotB);

// ---------------- TITLES & LEGENDS ----------------
function addDiv(html, style, cls) {
  const d = document.createElement("div");
  if (cls) d.className = cls;
  d.innerHTML = html;
  Object.assign(d.style, {position: "absolute", whiteSpace: "nowrap"}, style);
  wrap.appendChild(d);
  return d;
}
addDiv("CO<sub>2</sub> fluxes ( g CO<sub>2</sub> m<sup>\u22122</sup> d<sup>\u22121</sup>)", {left: "33px", top: "245px"}, "ytitle");
addDiv("N<sub>2</sub>O fluxes (g N<sub>2</sub>O m<sup>\u22122</sup> d<sup>\u22121</sup>)", {left: "33px", top: "752px"}, "ytitle");

const fluxStyle = {TER: {c: "#cddcdc", h: 3}, GPP: {c: "#e3d3c1", h: 2}, NEE: {c: "#b9bbb3", h: 3}, "NEE (meas.)": {c: "#8b7355", dot: true}};
addDiv("Flux", {left: "1150px", top: "168px", fontSize: "26px", lineHeight: "30px", color: "#000"});
fluxKeys.forEach((k, i) => {
  const cy = 219 + i * 29.4, s = fluxStyle[k];
  if (s.dot) addDiv("", {left: "1158px", top: (cy - 5) + "px", width: "10px", height: "10px", borderRadius: "50%", background: s.c});
  else addDiv("", {left: "1152px", top: (cy - s.h / 2) + "px", width: "23px", height: s.h + "px", background: s.c});
  addDiv(k, {left: "1188px", top: (cy - 13.5) + "px", fontSize: "23px", lineHeight: "27px", color: "#000"});
});
addDiv("Type", {left: "1162px", top: "645px", fontSize: "26px", lineHeight: "30px", color: "#000"});
typeKeys.forEach((k, i) => {
  const cy = 696 + i * 29.3;
  if (k === "Simulation") addDiv("", {left: "1165px", top: (cy - 2) + "px", width: "23px", height: "4px", background: "#d3cfbc"});
  else addDiv("", {left: "1172px", top: (cy - 5.5) + "px", width: "11px", height: "11px", borderRadius: "50%", background: typeColors[k]});
  addDiv(k, {left: "1201px", top: (cy - 13.5) + "px", fontSize: "23px", lineHeight: "27px", color: "#000"});
});
</script>
</body></html>
